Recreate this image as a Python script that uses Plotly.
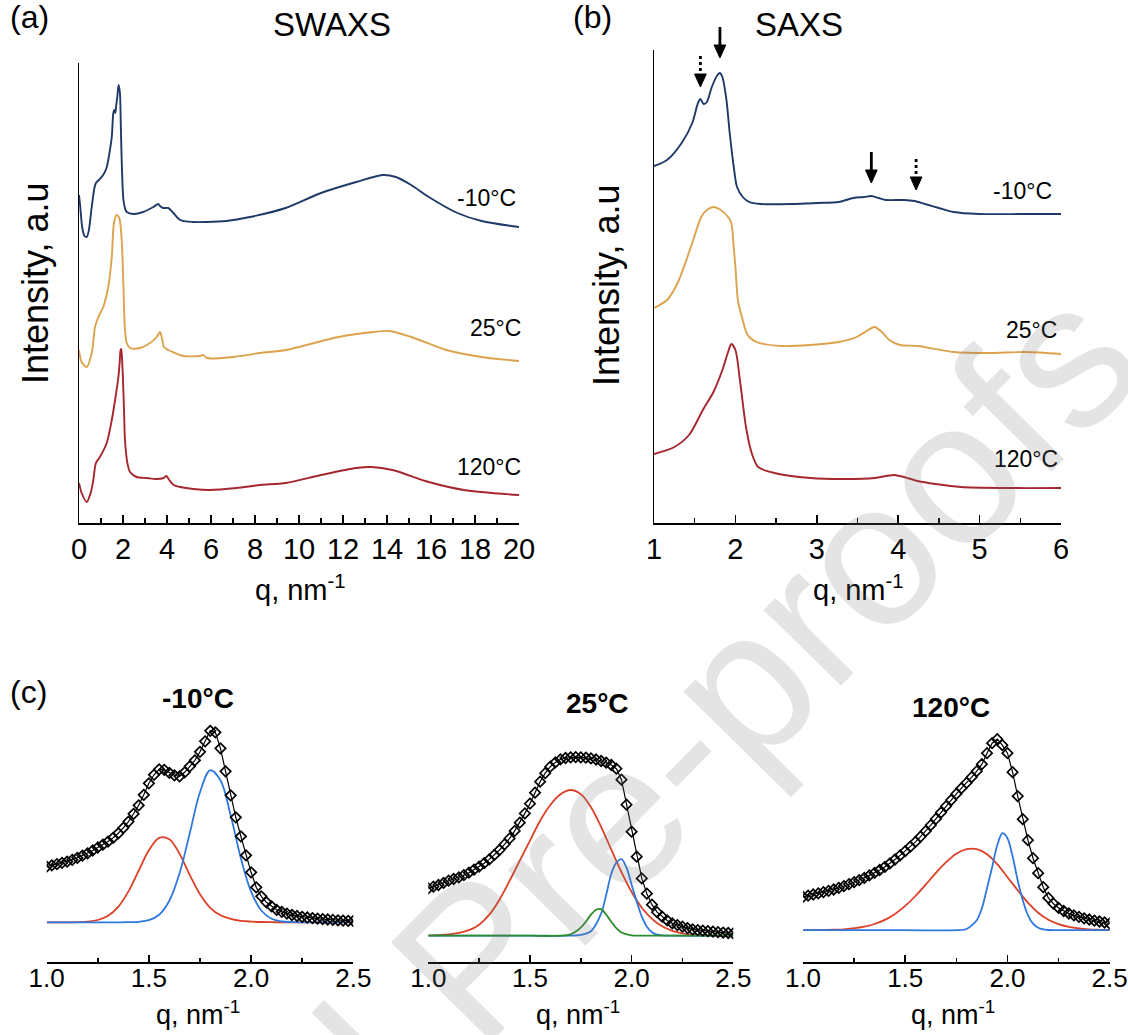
import plotly.graph_objects as go

W, H = 1128, 1035
def X(px): return px / W
def Y(py): return 1 - py / H

FONT = "Liberation Sans, Arial, sans-serif"

# ---------------- Panel (a) SWAXS ----------------
qa_m10 = [0.0, 0.05, 0.15, 0.25, 0.35, 0.45, 0.55, 0.62, 0.7, 0.77, 0.9, 1.1, 1.25, 1.33, 1.42, 1.49, 1.53, 1.56,
          1.61, 1.65, 1.7, 1.74, 1.8, 1.86, 1.9, 1.94, 2.02, 2.1, 2.17, 2.47, 2.92, 3.38, 3.6, 3.68, 3.83, 4.06,
          4.29, 4.6, 5.2, 5.8, 6.7, 7.77, 9.39, 11.0, 12.6, 13.8, 14.4, 15.1, 15.9, 17.2, 18.3, 20.0]
Ia_m10 = [328, 318, 295, 287, 286, 293, 311, 323, 335, 340, 343, 348, 355, 363, 375, 386, 401, 410,
          413, 410, 419, 426, 438, 430, 398, 363, 323, 314, 311, 309, 311, 316, 319, 317, 315, 315,
          310, 303, 301, 301, 302, 306, 315, 330, 341, 348, 346, 338, 326, 310, 302, 296]

qa_25 = [0.0, 0.12, 0.35, 0.58, 0.73, 0.88, 1.1, 1.33, 1.49, 1.59, 1.71, 1.83, 1.94, 2.02, 2.09, 2.17, 2.32,
         2.77, 3.23, 3.53, 3.68, 3.76, 3.86, 4.06, 4.36, 4.74, 5.5, 5.65, 5.8, 7.0, 8.23, 9.4, 11.8, 13.4,
         14.1, 15.1, 16.7, 18.3, 20.0]
Ia_25 = [173, 161, 156, 170, 196, 206, 216, 236, 266, 300, 308, 305, 283, 236, 193, 180, 175,
         175, 180, 186, 191, 186, 176, 173, 170, 167, 167, 168, 165, 166, 170, 173, 186, 191,
         192, 186, 173, 166, 162]

qa_120 = [0.0, 0.12, 0.35, 0.53, 0.65, 0.77, 0.95, 1.26, 1.49, 1.64, 1.79, 1.85, 1.89, 1.92, 1.96, 2.0, 2.05,
          2.09, 2.2, 2.32, 2.62, 3.08, 3.5, 3.85, 3.97, 4.1, 4.3, 4.6, 5.2, 5.95, 7.17, 8.23, 9.4, 11.0,
          12.6, 13.3, 14.25, 15.9, 17.5, 20.0]
Ia_120 = [40, 30, 21, 30, 43, 60, 66, 80, 103, 123, 146, 161, 173, 174, 163, 143, 110,
          83, 60, 51, 46, 45, 44, 45, 47, 43, 38, 36, 34, 33, 35, 38, 40, 48,
          55, 56, 53, 41, 33, 28]

# ---------------- Panel (b) SAXS ----------------
qb_m10 = [1.0, 1.16, 1.34, 1.47, 1.54, 1.57, 1.61, 1.65, 1.71, 1.78, 1.81, 1.84, 1.89, 1.93, 1.98, 2.02, 2.09,
          2.17, 2.31, 2.7, 3.01, 3.27, 3.45, 3.58, 3.67, 3.76, 3.85, 4.07, 4.2, 4.33, 4.5, 4.68, 4.99, 5.56, 6.0]
Ib_m10 = [357, 363, 380, 400, 420, 424, 419, 421, 436, 448, 450, 446, 423, 390, 356, 336, 326,
          321, 319, 319, 320, 321, 325, 326, 327, 325, 323, 323, 322, 319, 315, 311, 309, 309, 309]

qb_25 = [1.0, 1.16, 1.29, 1.47, 1.58, 1.65, 1.73, 1.82, 1.91, 1.95, 1.98, 2.0, 2.03, 2.06, 2.09, 2.15, 2.26,
         2.57, 2.92, 3.27, 3.49, 3.63, 3.71, 3.8, 3.89, 4.02, 4.24, 4.68, 5.12, 5.56, 6.0]
Ib_25 = [215, 223, 240, 280, 306, 313, 316, 313, 306, 300, 275, 256, 223, 212, 203, 188, 181,
         177, 178, 181, 186, 193, 196, 191, 183, 178, 177, 171, 170, 171, 169]

qb_120 = [1.0, 1.25, 1.43, 1.6, 1.73, 1.84, 1.91, 1.95, 2.0, 2.06, 2.13, 2.2, 2.28, 2.48, 2.92, 3.36, 3.71,
          3.95, 4.07, 4.24, 4.46, 4.77, 5.34, 6.0]
Ib_120 = [69, 76, 88, 113, 131, 153, 171, 179, 173, 140, 96, 70, 56, 50, 45, 44, 45,
          48, 46, 42, 39, 36, 35, 35]

arrow_q = [1.57, 1.81, 3.67, 4.22]
arrow_dash = ["dot", "solid", "solid", "dot"]

# ---------------- Panel (c) peak fits ----------------
qc = [round(1.0 + 0.025 * i, 3) for i in range(61)]
Ic_m10 = [55.7, 57, 58.2, 59.5, 60.7, 62.5, 64.5, 66.7, 69, 71.8, 74.8, 77.7, 80.7, 84.5, 89, 94.5, 100.7,
          108.5, 117, 127.5, 139, 147.5, 153, 152.5, 149.5, 147, 146, 150, 156, 162, 170.5, 181, 191.5,
          190, 174, 151, 127, 105, 86, 67, 50, 35, 26, 20, 16, 12.5, 10.5, 8.7, 7.3, 6.3, 5.5, 4.8,
          4.2, 3.7, 3.2, 2.8, 2.4, 2.0, 1.7, 1.5, 1.3]
Ic_25 = [47.3, 49, 50.7, 52.8, 55, 56.7, 58.3, 60.6, 63, 66, 69, 72.5, 76.3, 80.8, 85.7, 91.3, 97.3,
         104.8, 113, 122.3, 132, 143, 154, 162.5, 169, 173.3, 176.3, 177.7, 178.3, 178.5, 178.3, 178,
         177.3, 176.2, 174.7, 173, 170.7, 167, 156, 131, 104, 79, 57.3, 42, 31, 23.5, 19, 15.3, 12.3,
         10.5, 9, 7.6, 6.3, 5.6, 5, 4.5, 4, 3.5, 3.1, 2.7, 2.3]
Ic_120 = [33.3, 34.5, 35.7, 36.8, 38, 39.3, 40.7, 42.3, 44, 46, 48, 50.1, 52.3, 54.8, 57.3, 60.2, 63.3,
          66.8, 70.7, 74.8, 79, 83.6, 88.3, 93.5, 99, 105, 111.3, 117.7, 124, 130.2, 136.3, 142, 147.3,
          153, 159, 166, 177, 187, 191, 185, 177, 158, 134, 111, 90, 72, 57, 43, 32.3, 26.5, 22.3, 19.2,
          16.7, 14.8, 13.3, 11.9, 10.7, 9.6, 8.7, 7.7, 6.7]

qf = [round(1.0 + 0.05 * i, 2) for i in range(31)]
fit_m10_red = [0, 0, 0, 0.2, 0.7, 2.3, 6.5, 15.5, 30.9, 51.6, 72, 84.5, 83, 68.4, 47.2, 28, 14.5, 7, 3.5,
               1.5, 0.7, 0.3, 0.1, 0, 0, 0, 0, 0, 0, 0, 0]
fit_m10_blue = [0, 0, 0, 0, 0, 0, 0, 0, 0.1, 0.5, 2.1, 7.5, 21.5, 49, 89, 130, 152, 142, 107, 64, 30.7,
                11.8, 3.6, 0.9, 0.2, 0, 0, 0, 0, 0, 0]
fit_25_red = [0.3, 0.6, 1.3, 2.8, 5.5, 11, 21, 36, 55, 75, 95, 115, 130.7, 141.4, 145.7, 141.6, 128.5,
              108.9, 86, 63.5, 43.7, 28, 16.8, 9.4, 4.9, 2.4, 1.1, 0.5, 0.2, 0.1, 0]
qf_25_blue = [1.0, 1.5, 1.7, 1.75, 1.8, 1.85, 1.875, 1.9, 1.925, 1.95, 1.975, 2.0, 2.025, 2.05, 2.075, 2.1,
              2.125, 2.15, 2.2, 2.5]
fit_25_blue = [0, 0, 0, 0.8, 4.5, 22, 41, 62, 73, 76.5, 68, 51, 34, 19, 9, 3.5, 1, 0.3, 0, 0]
qf_25_green = [1.0, 1.5, 1.65, 1.7, 1.75, 1.775, 1.8, 1.825, 1.85, 1.875, 1.9, 1.925, 1.95, 2.0, 2.05, 2.5]
fit_25_green = [0, 0, 0, 1.3, 8, 14, 21, 26, 26.5, 21, 14, 7.5, 3.2, 0.3, 0, 0]
fit_120_red = [0, 0, 0.2, 0.5, 0.9, 2, 3.5, 6.2, 10.3, 16.3, 24.3, 34.2, 45.6, 57.3, 68, 76.4, 81, 81.1,
               76, 66, 53, 40, 27.5, 17.5, 10.5, 6, 3.3, 1.7, 0.8, 0.4, 0.2]
qf_120_blue = [1.0, 1.5, 1.75, 1.8, 1.85, 1.875, 1.9, 1.925, 1.95, 1.975, 2.0, 2.025, 2.05, 2.075, 2.1,
               2.125, 2.15, 2.175, 2.2, 2.25, 2.5]
fit_120_blue = [0, 0, 0, 1.2, 10, 22, 42, 63, 85, 97, 92, 74, 50, 30, 15, 6.5, 2.5, 0.8, 0.2, 0, 0]

C_M10 = "#1f3a68"
C_25 = "#dca24c"
C_120 = "#a5262c"
C_RED = "#dc4128"
C_BLUE = "#2f78e0"
C_GREEN = "#2a8c2a"

fig = go.Figure()

def line(x, y, color, xa, ya, width=1.9, smooth=0.8):
    fig.add_trace(go.Scatter(x=x, y=y, mode="lines", xaxis=xa, yaxis=ya,
                             line=dict(color=color, width=width, shape="spline", smoothing=smooth),
                             showlegend=False, hoverinfo="skip"))

line(qa_m10, Ia_m10, C_M10, "x", "y")
line(qa_25, Ia_25, C_25, "x", "y")
line(qa_120, Ia_120, C_120, "x", "y")
line(qb_m10, Ib_m10, C_M10, "x2", "y2")
line(qb_25, Ib_25, C_25, "x2", "y2")
line(qb_120, Ib_120, C_120, "x2", "y2")

def data_pts(y, xa, ya):
    fig.add_trace(go.Scatter(x=qc, y=y, mode="lines+markers", xaxis=xa, yaxis=ya,
                             line=dict(color="black", width=1.2),
                             marker=dict(symbol="diamond-open", size=8, color="black",
                                         line=dict(width=1.7, color="black")),
                             showlegend=False, hoverinfo="skip"))

line(qf, fit_m10_red, C_RED, "x3", "y3", 1.8, 1.0)
line(qf, fit_m10_blue, C_BLUE, "x3", "y3", 1.8, 1.0)
data_pts(Ic_m10, "x3", "y3")
line(qf, fit_25_red, C_RED, "x4", "y4", 1.8, 1.0)
line(qf_25_blue, fit_25_blue, C_BLUE, "x4", "y4", 1.8, 0.8)
line(qf_25_green, fit_25_green, C_GREEN, "x4", "y4", 1.8, 0.8)
data_pts(Ic_25, "x4", "y4")
line(qf, fit_120_red, C_RED, "x5", "y5", 1.8, 1.0)
line(qf_120_blue, fit_120_blue, C_BLUE, "x5", "y5", 1.8, 0.8)
data_pts(Ic_120, "x5", "y5")

tickfont_ab = dict(family=FONT, size=29, color="black")
tickfont_c = dict(family=FONT, size=26, color="black")

def xax(dom, rng, dtick, minor, font, anchor, fmt=None, tl=8, mtl=5, standoff=0):
    d = dict(domain=dom, range=rng, anchor=anchor, tickmode="linear", tick0=rng[0], dtick=dtick,
             ticks="inside", ticklen=tl, tickwidth=1.5, tickcolor="black",
             minor=dict(dtick=minor, tick0=rng[0], ticks="inside", ticklen=mtl, tickwidth=1.5, tickcolor="black"),
             showline=True, linewidth=1.5, linecolor="black", showgrid=False, zeroline=False,
             tickfont=font, fixedrange=True, automargin=False, ticklabelstandoff=standoff)
    if fmt:
        d["tickformat"] = fmt
    return d

def yax(dom, rng, anchor, visible=True):
    return dict(domain=dom, range=rng, anchor=anchor, showline=visible, linewidth=1.5, linecolor="black",
                ticks="", showticklabels=False, showgrid=False, zeroline=False, visible=visible,
                fixedrange=True, automargin=False)

yc_dom = [Y(962), Y(720)]
fig.update_layout(
    width=W, height=H, margin=dict(l=0, r=0, t=0, b=0, pad=0, autoexpand=False),
    paper_bgcolor="white", plot_bgcolor="rgba(0,0,0,0)",
    font=dict(family=FONT, color="black", size=20),
    xaxis=xax([X(79), X(519)], [0, 20], 2, 1, tickfont_ab, "y"),
    yaxis=yax([Y(523), Y(63)], [0, 460], "x"),
    xaxis2=xax([X(654), X(1061)], [1, 6], 1, 0.5, tickfont_ab, "y2"),
    yaxis2=yax([Y(523), Y(50)], [0, 473], "x2"),
    xaxis3=xax([X(46.7), X(353.3)], [1.0, 2.5], 0.5, 0.25, tickfont_c, "y3", ".1f", 7, 4, -8),
    yaxis3=yax(yc_dom, [-39.7, 202.3], "x3", False),
    xaxis4=xax([X(428.3), X(733.3)], [1.0, 2.5], 0.5, 0.25, tickfont_c, "y4", ".1f", 7, 4, -8),
    yaxis4=yax(yc_dom, [-26.3, 215.7], "x4", False),
    xaxis5=xax([X(803), X(1109.7)], [1.0, 2.5], 0.5, 0.25, tickfont_c, "y5", ".1f", 7, 4, -8),
    yaxis5=yax(yc_dom, [-31.8, 210.2], "x5", False),
)

ann = []
def txt(t, px, py, size, bold=False, angle=0):
    ann.append(dict(text=("<b>%s</b>" % t) if bold else t, x=X(px), y=Y(py), xref="paper", yref="paper",
                    showarrow=False, xanchor="center", yanchor="middle", textangle=angle,
                    font=dict(family=FONT, size=size, color="black")))

txt("(a)", 29, 17, 32)
txt("SWAXS", 332, 24, 33)
txt("(b)", 592, 17, 32)
txt("SAXS", 799, 24, 33)
txt("(c)", 28, 692, 32)
txt("Intensity, a.u", 35, 284, 36, angle=-90)
txt("Intensity, a.u", 606, 286, 36, angle=-90)
txt("q, nm<sup>-1</sup>", 300, 588, 29)
txt("q, nm<sup>-1</sup>", 858, 588, 29)
txt("-10°C", 486, 198, 23)
txt("25°C", 495, 328, 23)
txt("120°C", 489, 467, 23)
txt("-10°C", 1022, 191, 23)
txt("25°C", 1031, 330, 23)
txt("120°C", 1026, 459, 23)
txt("-10°C", 198, 698, 28, bold=True)
txt("25°C", 597, 703, 28, bold=True)
txt("120°C", 951, 707, 28, bold=True)
txt("q, nm<sup>-1</sup>", 198, 1013, 27)
txt("q, nm<sup>-1</sup>", 578, 1013, 27)
txt("q, nm<sup>-1</sup>", 953, 1013, 27)

# watermark
ann.append(dict(text="Journal Pre-proofs", x=X(508), y=Y(922), xref="paper", yref="paper",
                showarrow=False, xanchor="center", yanchor="middle", textangle=-45.5,
                font=dict(family=FONT, size=205, color="rgba(120,120,120,0.2)")))

# arrows in (b)
tips = [87, 58, 183, 190]
shapes = []
for q, dash, tip in zip(arrow_q, arrow_dash, tips):
    shapes.append(dict(type="line", xref="x2", yref="paper", x0=q, x1=q, y0=Y(tip - 31), y1=Y(tip - 9),
                       line=dict(color="black", width=2.8, dash=dash)))
    hw = 0.072
    path = "M %f,%f L %f,%f L %f,%f Z" % (q - hw, Y(tip - 13), q + hw, Y(tip - 13), q, Y(tip))
    shapes.append(dict(type="path", xref="x2", yref="paper", path=path,
                       fillcolor="black", line=dict(color="black", width=1)))

fig.update_layout(annotations=ann, shapes=shapes)
fig.write_html("out.html", config={"displayModeBar": False, "staticPlot": True},
               post_script="document.body.style.margin='0';document.body.style.overflow='hidden';")
